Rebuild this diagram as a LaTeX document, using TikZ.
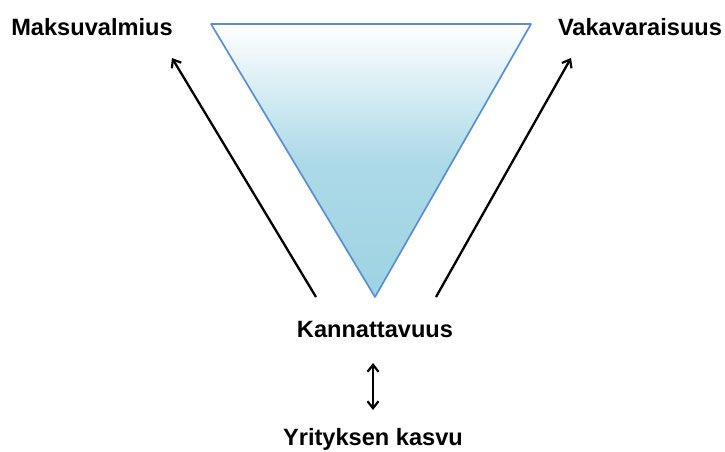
\documentclass[tikz,border=0pt]{standalone}
\usepackage{fontspec}
\setmainfont{Liberation Sans}
\usetikzlibrary{arrows.meta}
\definecolor{triblue}{HTML}{9ED3E3}
\definecolor{triedge}{HTML}{5B8FD0}
\tikzset{
  lbl/.style={font=\fontsize{23.6}{26}\selectfont\bfseries, inner sep=0pt},
  mytip/.tip={Straight Barb[length=7pt,width=11pt,line width=2.2pt]},
  conn/.style={line width=2.3pt, -mytip},
}
\begin{document}
\begin{tikzpicture}[x=1pt,y=-1pt]
\useasboundingbox (0,0) rectangle (725,452);
\coordinate (tl) at (211,24);
\coordinate (tr) at (531,24);
\coordinate (tb) at (375,297);
\shade[top color=white, bottom color=triblue, middle color=triblue!85] (tl) -- (tr) -- (tb) -- cycle;
\draw[triedge, line width=1.7pt, line join=round] (tl) -- (tr) -- (tb) -- cycle;
\node[lbl] (mak) at (92,27) {Maksuvalmius};
\node[lbl] (vak) at (640,27) {Vakavaraisuus};
\node[lbl] (kan) at (375,329) {Kannattavuus};
\node[lbl] (yri) at (373,439) {Yrityksen kasvu};
\coordinate (la) at (316,297);
\coordinate (lb) at (172,58);
\coordinate (ra) at (436,297);
\coordinate (rb) at (571,58);
\coordinate (da) at (373,363);
\coordinate (db) at (373,410);
\draw[conn] (la) -- (lb);
\draw[conn] (ra) -- (rb);
\draw[line width=2.3pt, mytip-mytip] (da) -- (db);
\end{tikzpicture}
\end{document}
